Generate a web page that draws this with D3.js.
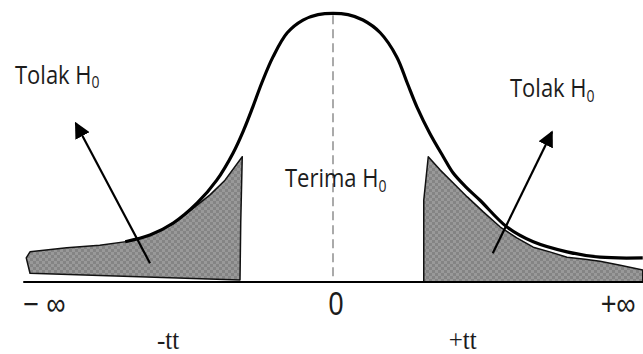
<!DOCTYPE html>
<meta charset="utf-8">
<script src="https://cdn.jsdelivr.net/npm/d3@7"></script>
<style>
body{margin:0;background:#fff;}
#chart text{fill:#1c1c1c;}
</style>
<body>
<div id="chart"></div>
<script>
// density curve (t value, density)
var curveT = [-2.77,-2.44,-2.13,-1.81,-1.55,-1.33,-1.19,-1.07,-0.95,-0.80,-0.61,-0.40,-0.20,0,
              0.20,0.40,0.63,0.85,0.99,1.12,1.29,1.47,1.60,1.77,1.96,2.32,2.67,3.12,3.56,4.13];
var curveD = [0.060,0.070,0.088,0.118,0.152,0.193,0.227,0.261,0.297,0.336,0.372,0.391,0.399,0.401,
              0.399,0.391,0.372,0.336,0.297,0.261,0.222,0.187,0.163,0.142,0.122,0.082,0.060,0.045,0.037,0.036];

// rejection areas (hand shaded in the picture)
var leftT  = [-4.04,-4.09,-4.04,-3.55,-3.11,-2.71,-2.44,-2.13,-1.84,-1.64,-1.44,-1.21,-1.23,-1.24];
var leftD  = [0.013,0.036,0.045,0.051,0.055,0.061,0.070,0.087,0.112,0.130,0.152,0.187,0.090,0.003];
var rightT = [1.21,1.21,1.27,1.43,1.60,1.79,2.00,2.23,2.45,2.67,2.89,3.12,3.36,3.56,3.83,4.13,4.13];
var rightD = [0,0.122,0.187,0.167,0.148,0.127,0.105,0.082,0.066,0.052,0.045,0.037,0.034,0.031,0.025,0.018,0];

// axis labels
var axisLabels = ["\u2212 \u221e","0","+\u221e"];
var axisLabelT = [-4.13,0.04,3.57];
var critLabels = ["-tt","+tt"];
var critLabelT = [-2.2,1.73];

// region labels and arrows
var regionLabels = ["Tolak H","Terima H","Tolak H"];
var regionT = [-4.24,-0.64,2.36];
var regionD = [0.296,0.142,0.276];
var arrowFromT = [-2.44,2.13], arrowFromD = [0.028,0.043];
var arrowToT = [-3.43,2.92],   arrowToD = [0.237,0.224];

var W = 643, H = 354;
var x = d3.scaleLinear().domain([-4,4]).range([33,633]);
var y = d3.scaleLinear().domain([0,0.4]).range([282,14]);

var svg = d3.select("#chart").append("svg")
    .attr("width",W).attr("height",H);

var defs = svg.append("defs");
var pat = defs.append("pattern").attr("id","chk")
    .attr("width",6).attr("height",6).attr("patternUnits","userSpaceOnUse");
pat.append("rect").attr("width",6).attr("height",6).attr("fill","#999");
pat.append("rect").attr("width",3).attr("height",3).attr("fill","#848484");
pat.append("rect").attr("x",3).attr("y",3).attr("width",3).attr("height",3).attr("fill","#848484");

defs.append("marker").attr("id","head")
    .attr("viewBox","0 0 10 10").attr("refX",9).attr("refY",5)
    .attr("markerWidth",16).attr("markerHeight",16)
    .attr("markerUnits","userSpaceOnUse").attr("orient","auto")
  .append("path").attr("d","M0,0L10,5L0,10z").attr("fill","#000");

var poly = d3.line().x(function(d){return x(d[0]);}).y(function(d){return y(d[1]);});

// shaded tails
[[leftT,leftD],[rightT,rightD]].forEach(function(s){
  svg.append("path")
    .attr("d",poly(d3.zip(s[0],s[1]))+"Z")
    .attr("fill","url(#chk)")
    .attr("stroke","#111").attr("stroke-width",1.5).attr("stroke-linejoin","round");
});

// centre dashed line
svg.append("line")
  .attr("x1",x(0)).attr("x2",x(0))
  .attr("y1",y(0.398)).attr("y2",y(0))
  .attr("stroke","#aaa").attr("stroke-width",2).attr("stroke-dasharray","9,5");

// baseline
svg.append("line")
  .attr("x1",x(-4.13)).attr("x2",W)
  .attr("y1",y(0)).attr("y2",y(0))
  .attr("stroke","#000").attr("stroke-width",2);

// density curve
svg.append("path")
  .datum(d3.zip(curveT,curveD))
  .attr("d",d3.line().x(function(d){return x(d[0]);}).y(function(d){return y(d[1]);}).curve(d3.curveCatmullRom))
  .attr("fill","none").attr("stroke","#000").attr("stroke-width",3.2);

// arrows
arrowFromT.forEach(function(t,i){
  svg.append("line")
    .attr("x1",x(t)).attr("y1",y(arrowFromD[i]))
    .attr("x2",x(arrowToT[i])).attr("y2",y(arrowToD[i]))
    .attr("stroke","#000").attr("stroke-width",2.2)
    .attr("marker-end","url(#head)");
});

// region labels with subscript 0
regionLabels.forEach(function(l,i){
  var t = svg.append("g")
    .attr("transform","translate("+x(regionT[i])+","+y(regionD[i])+") scale(1,1.18)")
    .append("text")
    .attr("font-family","'Open Sans', sans-serif")
    .attr("font-size",22)
    .text(l);
  t.append("tspan").attr("font-size",14).attr("dy",4).text("0");
});

// axis labels
axisLabels.forEach(function(l,i){
  svg.append("g")
    .attr("transform","translate("+x(axisLabelT[i])+",315) scale(1,1.2)")
    .append("text")
    .attr("text-anchor", i==1 ? "middle" : "start")
    .attr("font-family","'Liberation Sans', Arial, sans-serif")
    .attr("font-size",27)
    .text(l);
});
critLabels.forEach(function(l,i){
  svg.append("g")
    .attr("transform","translate("+x(critLabelT[i])+",349) scale(1,1.1)")
    .append("text")
    .attr("text-anchor","middle")
    .attr("font-family","'Liberation Serif', serif")
    .attr("font-size",25)
    .text(l);
});
</script>
</body>
